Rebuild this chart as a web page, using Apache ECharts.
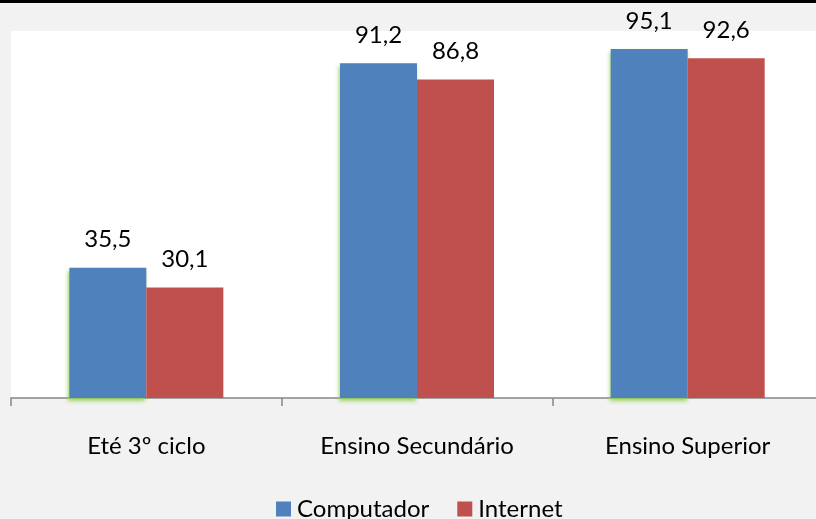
<!DOCTYPE html>
<html><head><meta charset="utf-8">
<script src="https://cdn.jsdelivr.net/npm/echarts@6/dist/echarts.min.js"></script>
<style>html,body{margin:0;padding:0;background:#f2f2f2}#c{width:816px;height:519px}</style>
</head><body><div id="c"></div>
<script>
const categories = ['Eté 3º ciclo', 'Ensino Secundário', 'Ensino Superior'];
const computador = [35.5, 91.2, 95.1];
const internet = [30.1, 86.8, 92.6];
const seriesNames = ['Computador', 'Internet'];
const FONT = 'Lato';
const fmt = p => String(p.value).replace('.', ',');
const chart = echarts.init(document.getElementById('c'), null, {renderer: 'canvas'});
chart.setOption({
  backgroundColor: '#f2f2f2',
  animation: false,
  graphic: [{type: 'rect', left: 0, top: 0, shape: {width: 816, height: 3}, style: {fill: '#000'}}],
  grid: {left: 11, top: 31, width: 812, height: 367, show: true, backgroundColor: '#fff', borderWidth: 0,
         outerBoundsMode: 'none', containLabel: false},
  legend: {
    top: 492, left: 271, itemWidth: 15, itemHeight: 15, itemGap: 28,
    icon: 'rect',
    textStyle: {fontFamily: FONT, fontSize: 24, color: '#000', padding: [0, 0, 0, 1]},
    data: seriesNames
  },
  xAxis: {
    type: 'category', data: categories,
    axisLine: {lineStyle: {color: '#868686', width: 1.5}},
    axisTick: {show: true, length: 8, lineStyle: {color: '#868686', width: 1.5}},
    axisLabel: {margin: 36, fontFamily: FONT, fontSize: 24, color: '#000'}
  },
  yAxis: {type: 'value', min: 0, max: 100, show: false, splitLine: {show: false}},
  series: [
    {name: seriesNames[0], type: 'bar', data: computador, barWidth: 77, barGap: '0%',
     itemStyle: {color: '#4f81bd', shadowColor: 'rgba(146,208,80,0.9)', shadowBlur: 4, shadowOffsetX: -1, shadowOffsetY: 3},
     label: {show: true, position: 'top', distance: 16, formatter: fmt, fontFamily: FONT, fontSize: 24, color: '#000'}},
    {name: seriesNames[1], type: 'bar', data: internet, barWidth: 77,
     itemStyle: {color: '#c0504d'},
     label: {show: true, position: 'top', distance: 16, formatter: fmt, fontFamily: FONT, fontSize: 24, color: '#000'}}
  ]
});
</script></body></html>
